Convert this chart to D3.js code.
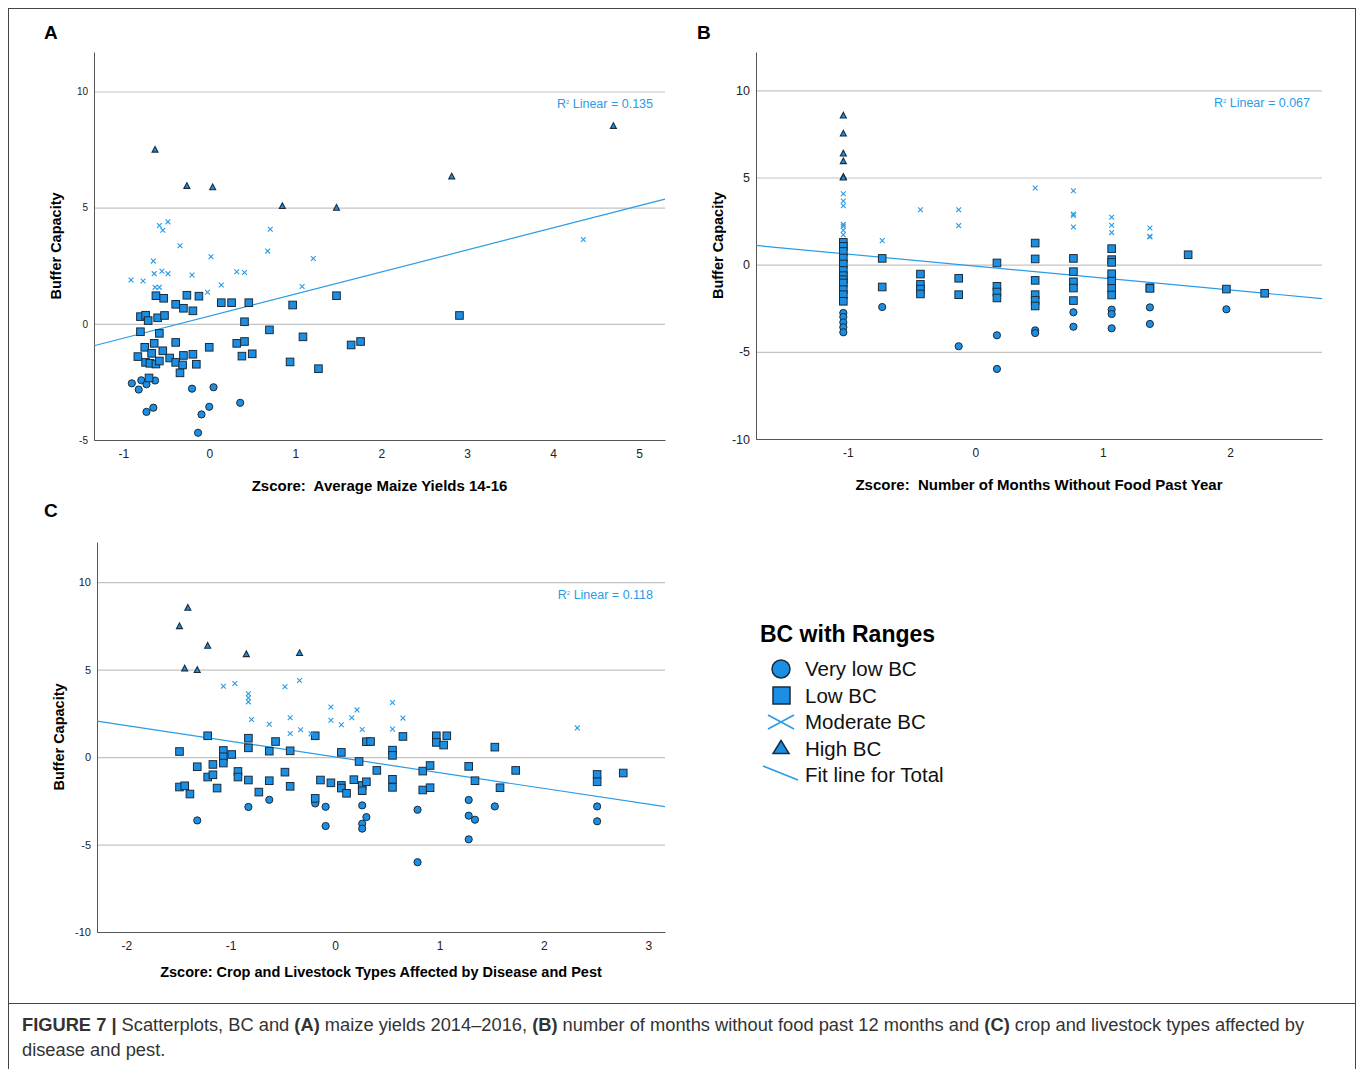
<!DOCTYPE html>
<html>
<head>
<meta charset="utf-8">
<script src="https://cdn.jsdelivr.net/npm/d3@7"></script>
<style>
  body { margin: 0; background: #fff; font-family: Arial, "Liberation Sans", sans-serif; }
</style>
</head>
<body>
<svg id="fig" width="1362" height="1069"></svg>
<script>
// ---- Panel A : Zscore average maize yields 14-16
const aVeryLow = [[-0.9,-2.56],[-0.82,-2.83],[-0.79,-2.43],[-0.73,-2.6],[-0.63,-2.44],[-0.2,-2.79],[0.05,-2.73],
  [-0.73,-3.79],[-0.65,-3.61],[0,-3.57],[-0.09,-3.9],[0.36,-3.4],[-0.13,-4.69]];
const aLow = [[-0.62,1.21],[-0.53,1.1],[-0.39,0.84],[-0.3,0.67],[-0.26,1.23],[-0.19,0.56],[-0.12,1.19],[0.14,0.91],
  [0.26,0.91],[0.46,0.91],[0.97,0.81],[1.48,1.21],[2.91,0.36],[-0.8,0.31],[-0.74,0.37],[-0.71,0.14],[-0.6,0.26],
  [-0.52,0.36],[0.41,0.09],[-0.8,-0.34],[-0.58,-0.41],[0.7,-0.26],[-0.75,-1.01],[-0.64,-0.84],[-0.39,-0.8],[0,-1.01],
  [0.32,-0.84],[0.41,-0.76],[1.09,-0.56],[1.65,-0.91],[1.76,-0.76],[-0.83,-1.41],[-0.67,-1.27],[-0.54,-1.16],
  [-0.46,-1.47],[-0.3,-1.36],[-0.19,-1.31],[-0.74,-1.66],[-0.69,-1.7],[-0.62,-1.73],[-0.58,-1.6],[-0.39,-1.66],
  [-0.31,-1.77],[-0.15,-1.74],[-0.34,-2.11],[0.38,-1.39],[0.5,-1.29],[0.94,-1.64],[1.27,-1.93],[-0.7,-2.33]];
const aModerate = [[-0.91,1.89],[-0.77,1.84],[-0.65,2.7],[-0.64,2.16],[-0.63,1.57],[-0.58,1.57],[-0.58,4.23],[-0.54,4.03],
  [-0.48,4.39],[-0.55,2.26],[-0.48,2.16],[-0.34,3.36],[-0.2,2.1],[-0.02,1.36],[0.02,2.89],[0.14,1.67],[0.32,2.24],
  [0.41,2.21],[0.68,3.13],[0.71,4.07],[1.08,1.61],[1.21,2.81],[4.35,3.63]];
const aHigh = [[-0.63,7.49],[-0.26,5.93],[0.04,5.87],[0.85,5.06],[1.48,4.99],[2.82,6.34],[4.70,8.51]];
const aFit = { slope: 0.95, intercept: 0.33, r2: "0.135" };

// ---- Panel B : Zscore number of months without food past year
const bVeryLow = [[-1.035,-2.77],[-1.035,-3.0],[-1.035,-3.31],[-1.035,-3.59],[-1.035,-3.88],[-0.73,-2.43],[-0.13,-4.68],
  [0.17,-4.05],[0.17,-5.98],[0.47,-3.77],[0.47,-3.92],[0.77,-2.73],[0.77,-3.56],[1.07,-2.58],[1.07,-2.83],[1.07,-3.65],
  [1.37,-2.45],[1.37,-3.4],[1.97,-2.56]];
const bLow = [[-1.035,1.28],[-1.035,1.05],[-1.035,0.76],[-1.035,0.38],[-1.035,0.04],[-1.035,-0.33],[-1.035,-0.63],
  [-1.035,-0.86],[-1.035,-1.05],[-1.035,-1.43],[-1.035,-1.72],[-1.035,-2.1],[-0.73,0.36],[-0.73,-1.28],
  [-0.43,-0.54],[-0.43,-1.13],[-0.43,-1.4],[-0.43,-1.68],[-0.13,-0.78],[-0.13,-1.72],[0.17,0.1],[0.17,-1.24],
  [0.17,-1.57],[0.17,-1.91],[0.47,1.24],[0.47,0.33],[0.47,-0.9],[0.47,-1.72],[0.47,-2.05],[0.47,-2.37],
  [0.77,0.36],[0.77,-0.4],[0.77,-0.98],[0.77,-1.34],[0.77,-2.06],[1.07,0.92],[1.07,0.29],[1.07,0.13],[1.07,-0.52],
  [1.07,-0.94],[1.07,-1.36],[1.07,-1.74],[1.37,-1.32],[1.37,-1.36],[1.67,0.57],[1.97,-1.4],[2.27,-1.64]];
const bModerate = [[-1.035,4.07],[-1.035,3.65],[-1.035,3.38],[-1.035,2.31],[-1.035,2.2],[-1.035,1.97],[-1.035,1.72],
  [-0.73,1.38],[-0.43,3.15],[-0.13,3.15],[-0.13,2.24],[0.47,4.4],[0.77,4.24],[0.77,2.91],[0.77,2.83],[0.77,2.16],
  [1.07,2.72],[1.07,2.26],[1.07,1.84],[1.37,2.1],[1.37,1.63],[1.37,1.59]];
const bHigh = [[-1.035,8.55],[-1.035,7.51],[-1.035,6.37],[-1.035,5.93],[-1.035,5.03],[-1.035,4.99]];
const bFit = { slope: -0.687, intercept: -0.08, r2: "0.067" };

// ---- Panel C : Zscore crop and livestock types affected by disease and pest
const cVeryLow = [[-1.32,-3.62],[-0.83,-2.85],[-0.63,-2.44],[-0.19,-2.65],[-0.09,-2.84],[-0.09,-3.94],[0.26,-2.76],
  [0.26,-3.81],[0.26,-4.09],[0.3,-3.43],[0.79,-3.01],[0.79,-6.01],[1.28,-2.45],[1.28,-3.35],[1.34,-3.58],
  [1.28,-4.7],[1.53,-2.82],[2.51,-2.82],[2.51,-3.67]];
const cLow = [[-1.49,0.32],[-1.22,1.22],[-1.32,-0.55],[-1.17,-0.42],[-1.07,0.38],[-1.07,0.02],[-1.07,-0.34],[-0.99,0.15],
  [-1.22,-1.14],[-1.17,-1.01],[-1.13,-1.77],[-1.49,-1.71],[-1.44,-1.64],[-1.39,-2.11],[-0.93,-0.82],[-0.93,-1.14],
  [-0.83,1.08],[-0.83,0.53],[-0.83,-1.31],[-0.73,-2.0],[-0.63,0.34],[-0.63,-1.35],[-0.57,0.89],[-0.48,-0.86],
  [-0.43,0.36],[-0.43,-1.67],[-0.19,1.22],[-0.19,-2.36],[-0.14,-1.31],[-0.04,-1.47],[0.06,0.27],[0.06,-1.62],
  [0.06,-1.77],[0.11,-2.07],[0.18,-1.29],[0.23,-0.25],[0.26,-1.62],[0.26,-1.92],[0.3,0.88],[0.34,0.89],[0.3,-1.41],
  [0.4,-0.76],[0.55,0.4],[0.55,0.1],[0.55,-1.27],[0.55,-1.73],[0.65,1.18],[0.84,-0.8],[0.84,-1.88],[0.91,-0.48],
  [0.91,-1.75],[0.97,1.22],[0.97,0.84],[1.04,0.69],[1.07,1.22],[1.28,-0.53],[1.34,-1.35],[1.53,0.57],[1.58,-1.75],
  [1.73,-0.76],[2.51,-0.99],[2.51,-1.41],[2.76,-0.91]];
const cModerate = [[-1.07,4.05],[-0.96,4.21],[-0.83,3.62],[-0.83,3.39],[-0.83,3.16],[-0.8,2.15],[-0.63,1.88],[-0.48,4.02],
  [-0.34,4.38],[-0.43,2.25],[-0.43,1.35],[-0.33,1.56],[-0.23,1.33],[-0.04,2.87],[-0.04,2.11],[0.06,1.85],[0.16,2.25],
  [0.21,2.7],[0.26,1.58],[0.55,3.12],[0.55,1.6],[0.65,2.23],[2.32,1.67]];
const cHigh = [[-1.41,8.53],[-1.49,7.48],[-1.22,6.36],[-0.85,5.88],[-0.34,5.94],[-1.44,5.06],[-1.32,4.97]];
const cFit = { slope: -0.90, intercept: 0.01, r2: "0.118" };

const legendLabels = ["Very low BC", "Low BC", "Moderate BC", "High BC", "Fit line for Total"];

const FILL = "#1b8fe3", STROKE = "#1c2b3a", LINE = "#2a9be6";
const svg = d3.select("#fig");

// outer frame + caption divider
svg.append("rect").attr("x", 8.5).attr("y", 8.5).attr("width", 1347).attr("height", 1070)
  .attr("fill", "none").attr("stroke", "#444").attr("stroke-width", 1);
svg.append("line").attr("x1", 8).attr("x2", 1356).attr("y1", 1003.5).attr("y2", 1003.5).attr("stroke", "#444");

function panel(cfg) {
  const x = d3.scaleLinear().domain(cfg.xDomain).range([cfg.left, cfg.right]);
  const y = d3.scaleLinear().domain(cfg.yDomain).range([cfg.bottom, cfg.top]);
  const g = svg.append("g");
  const fmt = d => String(d).replace("−", "-");

  g.selectAll(".grid").data(cfg.yTicks).join("line")
    .attr("x1", cfg.left).attr("x2", cfg.right)
    .attr("y1", d => y(d) + 0.5).attr("y2", d => y(d) + 0.5)
    .attr("stroke", "#c4c4c4").attr("stroke-width", 1.2);

  const ya = g.append("g").attr("transform", `translate(${cfg.left},0)`)
    .call(d3.axisLeft(y).tickValues(cfg.yTicks).tickFormat(fmt).tickSize(0).tickPadding(6));
  ya.select(".domain").attr("stroke", "#555");
  ya.selectAll("text").attr("font-size", cfg.yTickSize).attr("fill", "#222").attr("font-family", "Arial, Liberation Sans");

  const xa = g.append("g").attr("transform", `translate(0,${cfg.bottom})`)
    .call(d3.axisBottom(x).tickValues(cfg.xTicks).tickFormat(fmt).tickSize(0).tickPadding(9));
  xa.select(".domain").attr("stroke", "#555");
  xa.selectAll("text").attr("font-size", 12).attr("fill", "#222").attr("font-family", "Arial, Liberation Sans");

  g.append("text").attr("transform", `translate(${cfg.left - 33},${(cfg.top + cfg.bottom) / 2}) rotate(-90)`)
    .attr("text-anchor", "middle").attr("font-size", 14.5).attr("font-weight", "bold").text("Buffer Capacity");
  g.append("text").attr("x", (cfg.left + cfg.right) / 2).attr("y", cfg.bottom + cfg.xLabelDy)
    .attr("text-anchor", "middle").attr("font-size", cfg.xLabelSize).attr("font-weight", "bold")
    .attr("xml:space", "preserve").style("white-space", "pre").text(cfg.xLabel);

  g.append("text").attr("x", cfg.panelX).attr("y", cfg.panelY).attr("font-size", 19)
    .attr("font-weight", "bold").text(cfg.letter);

  // fit line
  const [x0, x1] = cfg.xDomain;
  g.append("line").attr("x1", x(x0)).attr("x2", x(x1))
    .attr("y1", y(cfg.fit.intercept + cfg.fit.slope * x0)).attr("y2", y(cfg.fit.intercept + cfg.fit.slope * x1))
    .attr("stroke", LINE).attr("stroke-width", 1.2);
  const r2 = g.append("text").attr("x", cfg.right - 12).attr("y", y(10) + 17)
    .attr("text-anchor", "end").attr("font-size", 12.5).attr("fill", LINE);
  r2.append("tspan").text("R");
  r2.append("tspan").attr("font-size", 6).attr("dy", -4).text("2");
  r2.append("tspan").attr("dy", 4).text(" Linear = " + cfg.fit.r2);

  g.selectAll(".vl").data(cfg.veryLow).join("circle")
    .attr("cx", d => x(d[0])).attr("cy", d => y(d[1])).attr("r", 3.6)
    .attr("fill", FILL).attr("stroke", STROKE).attr("stroke-width", 1);
  g.selectAll(".lo").data(cfg.low).join("rect")
    .attr("x", d => x(d[0]) - 3.8).attr("y", d => y(d[1]) - 3.8).attr("width", 7.6).attr("height", 7.6)
    .attr("fill", FILL).attr("stroke", STROKE).attr("stroke-width", 1);
  g.selectAll(".mo").data(cfg.moderate).join("path")
    .attr("d", d => { const cx = x(d[0]), cy = y(d[1]), s = 2.4;
      return `M${cx - s},${cy - s}L${cx + s},${cy + s}M${cx - s},${cy + s}L${cx + s},${cy - s}`; })
    .attr("stroke", LINE).attr("stroke-width", 1.1).attr("fill", "none");
  g.selectAll(".hi").data(cfg.high).join("path")
    .attr("d", d => { const cx = x(d[0]), cy = y(d[1]);
      return `M${cx},${cy - 3.4}L${cx + 3},${cy + 2.3}L${cx - 3},${cy + 2.3}Z`; })
    .attr("fill", FILL).attr("stroke", STROKE).attr("stroke-width", 1.1);
}

panel({ letter: "A", panelX: 44, panelY: 39, left: 94, right: 665, top: 52, bottom: 440,
  xDomain: [-1.34, 5.3], yDomain: [-5, 11.7], xTicks: [-1,0,1,2,3,4,5], yTicks: [10,5,0,-5], yTickSize: 10,
  xLabel: "Zscore:  Average Maize Yields 14-16", xLabelSize: 15, xLabelDy: 51,
  veryLow: aVeryLow, low: aLow, moderate: aModerate, high: aHigh, fit: aFit });

panel({ letter: "B", panelX: 697, panelY: 39, left: 756, right: 1322, top: 52, bottom: 439,
  xDomain: [-1.72, 2.72], yDomain: [-10, 12.2], xTicks: [-1,0,1,2], yTicks: [10,5,0,-5,-10], yTickSize: 12.5,
  xLabel: "Zscore:  Number of Months Without Food Past Year", xLabelSize: 15, xLabelDy: 51,
  veryLow: bVeryLow, low: bLow, moderate: bModerate, high: bHigh, fit: bFit });

panel({ letter: "C", panelX: 44, panelY: 517, left: 97, right: 665, top: 542, bottom: 932,
  xDomain: [-2.28, 3.16], yDomain: [-10, 12.3], xTicks: [-2,-1,0,1,2,3], yTicks: [10,5,0,-5,-10], yTickSize: 11,
  xLabel: "Zscore: Crop and Livestock Types Affected by Disease and Pest", xLabelSize: 14.5, xLabelDy: 45,
  veryLow: cVeryLow, low: cLow, moderate: cModerate, high: cHigh, fit: cFit });

// legend
const lg = svg.append("g").attr("transform", "translate(760,0)");
lg.append("text").attr("x", 0).attr("y", 642).attr("font-size", 23).attr("font-weight", "bold").text("BC with Ranges");
const rowY = d3.scalePoint().domain(legendLabels).range([669, 775]);
lg.selectAll(".lt").data(legendLabels).join("text")
  .attr("x", 45).attr("y", d => rowY(d) + 7).attr("font-size", 20.5).attr("fill", "#111").text(d => d);
const mk = (i) => rowY(legendLabels[i]);
lg.append("circle").attr("cx", 21).attr("cy", mk(0)).attr("r", 9).attr("fill", FILL).attr("stroke", STROKE).attr("stroke-width", 1.5);
lg.append("rect").attr("x", 13).attr("y", mk(1) - 8.5).attr("width", 17).attr("height", 17).attr("fill", FILL).attr("stroke", STROKE).attr("stroke-width", 1.5);
lg.append("path").attr("d", `M8,${mk(2) - 7}L34,${mk(2) + 7}M8,${mk(2) + 7}L34,${mk(2) - 7}`).attr("stroke", LINE).attr("stroke-width", 1.6);
lg.append("path").attr("d", `M21,${mk(3) - 8}L29,${mk(3) + 5}L13,${mk(3) + 5}Z`).attr("fill", FILL).attr("stroke", STROKE).attr("stroke-width", 1.5);
lg.append("line").attr("x1", 3).attr("x2", 38).attr("y1", mk(4) - 9).attr("y2", mk(4) + 5).attr("stroke", LINE).attr("stroke-width", 1.6);

// caption
const cap = svg.append("text").attr("x", 22).attr("y", 1031).attr("font-size", 18.3).attr("fill", "#333");
cap.append("tspan").attr("font-weight", "bold").text("FIGURE 7 | ");
cap.append("tspan").text("Scatterplots, BC and ");
cap.append("tspan").attr("font-weight", "bold").text("(A)");
cap.append("tspan").text(" maize yields 2014–2016, ");
cap.append("tspan").attr("font-weight", "bold").text("(B)");
cap.append("tspan").text(" number of months without food past 12 months and ");
cap.append("tspan").attr("font-weight", "bold").text("(C)");
cap.append("tspan").text(" crop and livestock types affected by");
svg.append("text").attr("x", 22).attr("y", 1056).attr("font-size", 18.3).attr("fill", "#333").text("disease and pest.");
</script>
</body>
</html>
